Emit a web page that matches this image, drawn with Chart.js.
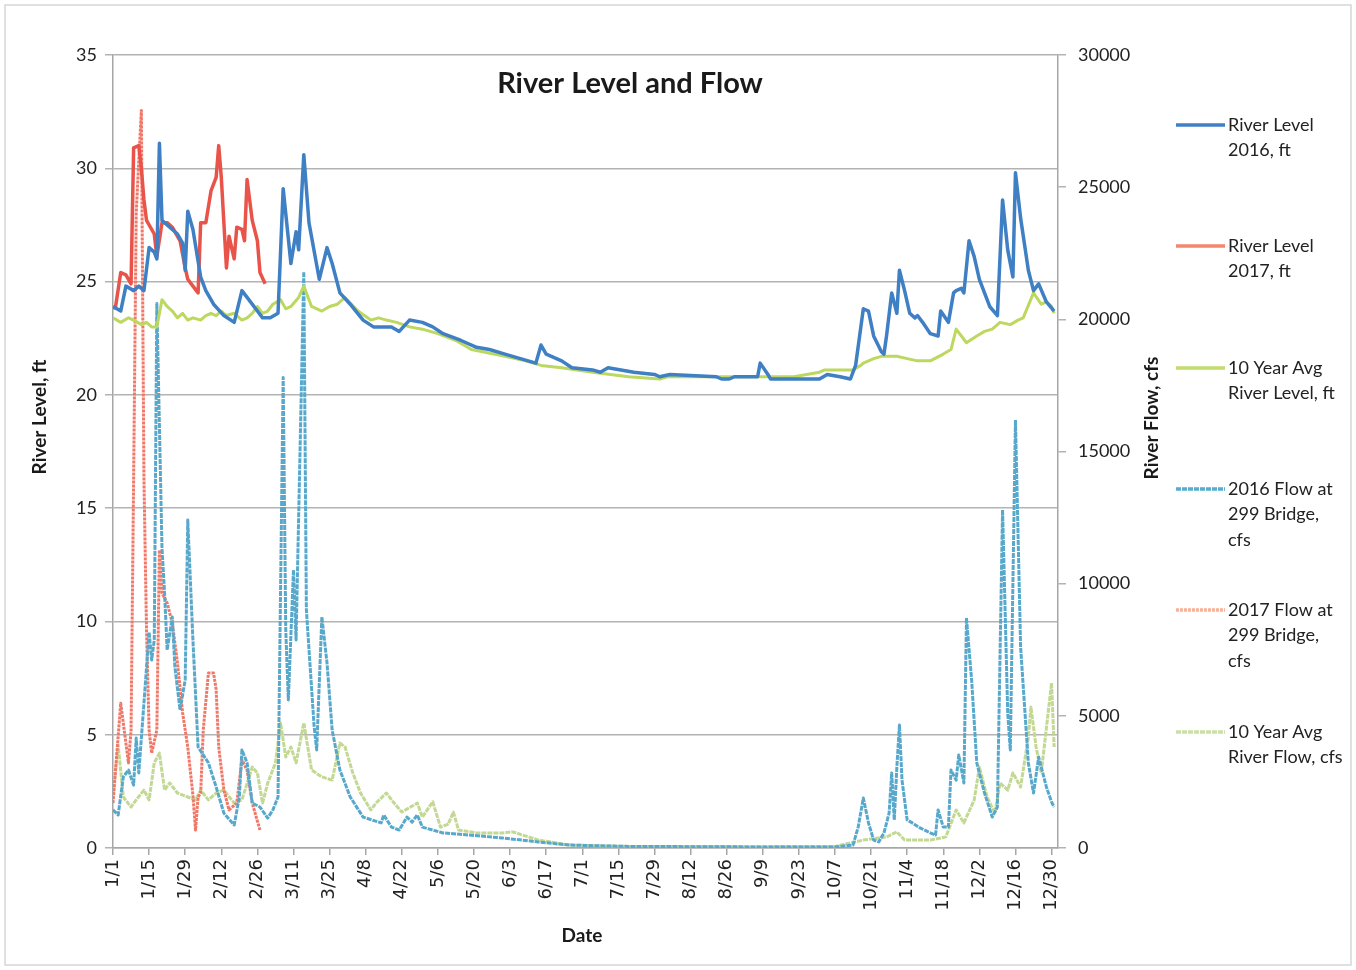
<!DOCTYPE html>
<html>
<head>
<meta charset="utf-8">
<script src="https://cdn.jsdelivr.net/npm/chart.js@4.4.0/dist/chart.umd.min.js"></script>
<style>
  html, body { margin: 0; padding: 0; background: #fff; }
  #wrap { width: 1356px; height: 970px; }
</style>
</head>
<body>
<div id="wrap"><canvas id="riverChart" width="1356" height="970"></canvas></div>
<script>
// x axis: day of year (2016), one label every 14 days
const tickDays = [0, 14, 28, 42, 56, 70, 84, 98, 112, 126, 140, 154, 168, 182, 196, 210, 224, 238, 252, 266, 280, 294, 308, 322, 336, 350, 364];
const dateLabels = ['1/1', '1/15', '1/29', '2/12', '2/26', '3/11', '3/25', '4/8', '4/22', '5/6', '5/20', '6/3', '6/17', '7/1',
  '7/15', '7/29', '8/12', '8/26', '9/9', '9/23', '10/7', '10/21', '11/4', '11/18', '12/2', '12/16', '12/30'];

// River level, ft (left axis)
const level2016Days = [0,3,5,8,10,12,14,16,17,18,19,21,25,27,28,29,31,34,36,39,43,47,50,52,56,58,61,64,66,69,71,72,74,76,80,83,85,88,92,97,101,108,111,115,120,124,128,135,141,146,152,158,164,166,168,170,174,178,186,189,192,197,202,210,212,216,234,236,239,241,250,251,254,255,264,274,277,282,286,288,291,293,295,298,299,300,302,304,305,307,309,311,312,314,317,320,321,324,326,327,329,330,332,334,336,340,343,345,347,349,350,352,355,357,359,362,365];
const level2016 = [23.9,23.7,24.8,24.6,24.8,24.6,26.5,26.3,26.0,31.1,27.7,27.5,27.1,26.7,25.5,28.1,27.3,25.2,24.6,24.0,23.5,23.2,24.6,24.3,23.7,23.4,23.4,23.6,29.1,25.8,27.2,26.4,30.6,27.6,25.1,26.5,25.8,24.5,24.0,23.3,23.0,23.0,22.8,23.3,23.2,23.0,22.7,22.4,22.1,22.0,21.8,21.6,21.4,22.2,21.8,21.7,21.5,21.2,21.1,21.0,21.2,21.1,21.0,20.9,20.8,20.9,20.8,20.7,20.7,20.8,20.8,21.4,20.9,20.7,20.7,20.7,20.9,20.8,20.7,21.3,23.8,23.7,22.6,21.9,21.8,22.6,24.5,23.6,25.5,24.6,23.6,23.4,23.5,23.2,22.7,22.6,23.7,23.2,24.5,24.6,24.7,24.5,26.8,26.1,25.1,23.9,23.5,28.6,26.4,25.2,29.8,27.8,25.5,24.6,24.9,24.1,23.7];

const level2017Days = [0,1,3,5,7,8,10,11,12,13,16,17,19,21,23,26,28,29,31,33,34,36,38,40,41,42,44,45,47,48,50,51,52,54,56,57,59];
const level2017 = [23.8,23.9,25.4,25.3,24.9,30.9,31.0,30.0,28.6,27.7,27.1,26.1,27.6,27.6,27.4,26.8,25.6,25.1,24.8,24.5,27.6,27.6,29.0,29.6,31.0,29.6,25.6,27.0,26.0,27.4,27.3,26.8,29.5,27.7,26.8,25.4,24.9];

const avgLevelDays = [0,3,6,8,11,13,15,17,19,21,23,25,27,29,31,34,36,38,40,42,44,47,50,52,54,56,58,60,62,65,67,69,72,74,77,81,84,87,90,95,100,103,106,110,115,120,126,133,139,152,160,166,174,186,200,212,215,234,251,264,274,276,287,290,291,295,298,304,308,312,317,322,325,327,331,335,338,341,344,348,351,353,357,360,362,364,365];
const avgLevel = [23.4,23.2,23.4,23.3,23.1,23.2,23.0,23.0,24.2,23.9,23.7,23.4,23.6,23.3,23.4,23.3,23.5,23.6,23.5,23.7,23.5,23.6,23.3,23.4,23.6,23.9,23.6,23.7,24.0,24.2,23.8,23.9,24.3,24.8,23.9,23.7,23.9,24.0,24.3,23.7,23.3,23.4,23.3,23.2,23.0,22.9,22.7,22.4,22.0,21.7,21.5,21.3,21.2,21.0,20.8,20.7,20.8,20.8,20.8,20.8,21.0,21.1,21.1,21.3,21.4,21.6,21.7,21.7,21.6,21.5,21.5,21.8,22.0,22.9,22.3,22.6,22.8,22.9,23.2,23.1,23.3,23.4,24.5,24.0,24.1,23.9,23.6];

// River flow, cfs (right axis)
const flow2016Days = [0,2,4,6,8,9,10,12,14,15,16,17,19,20,21,23,24,26,28,29,31,33,37,40,43,47,49,50,52,54,57,60,62,64,66,67,68,70,71,74,75,78,79,81,83,85,88,92,97,104,105,108,111,114,116,118,120,128,138,151,165,177,200,250,280,287,289,291,293,295,297,299,301,302,303,304,305,306,308,310,313,317,319,320,322,324,325,327,328,330,331,333,335,338,341,343,345,347,348,350,352,355,357,359,362,364,365];
const flow2016 = [1440,1250,2690,2950,2380,4160,2840,5480,8170,7110,7870,20600,11350,9650,7490,8740,6850,5220,6360,12410,7870,3820,3220,2310,1320,870,1930,3710,3220,1700,1550,1130,1440,1930,17800,8250,5600,10520,7870,21800,9000,4600,3710,8740,7000,4460,2950,1930,1170,950,1250,790,680,1170,980,1250,790,570,490,380,230,110,60,40,40,110,790,1890,950,300,230,570,1320,2840,1060,3060,4650,2570,1060,950,760,570,490,1440,790,790,2950,2570,3520,2460,8700,6360,3220,2080,1170,1550,12790,5100,3710,16190,7600,3220,2080,3440,2310,1740,1550];

const flow2017Days = [0,3,5,6,7,8,9,10,11,12,13,14,15,17,18,19,21,23,25,27,29,31,32,33,34,35,37,39,40,41,43,45,48,50,52,54,57];
const flow2017 = [1700,5480,3970,3220,4460,14000,24000,26000,27900,14000,8250,4460,3590,4460,11270,9650,9270,8510,7000,5110,3820,2000,680,1930,2080,4460,6620,6620,6000,3820,2190,1440,1700,3330,2950,1700,680];

const avgFlowDays = [0,2,4,7,9,12,14,16,18,20,22,25,29,32,34,37,40,43,47,50,54,56,58,60,63,65,67,69,71,74,77,81,85,88,90,93,96,100,102,106,109,112,118,120,124,127,130,132,134,141,151,155,165,177,200,250,280,291,300,304,307,317,323,327,330,334,336,339,342,344,347,349,352,355,356,358,360,364,365];
const avgFlow = [2000,3900,1930,1550,1820,2190,1820,3220,3590,2190,2460,2080,1930,1820,2190,1820,2080,2190,1700,1820,3060,2840,1700,2460,3220,4730,3440,3820,3220,4730,2950,2690,2570,3970,3820,2840,2080,1440,1700,2080,1700,1360,1700,1170,1750,790,900,1360,680,570,570,610,300,110,60,50,60,300,420,610,300,300,420,1440,950,1820,3060,1930,1320,2460,2190,2840,2310,4200,5330,3820,2840,6240,3820];

const toPoints = (days, vals) => days.map((d, i) => ({ x: d, y: vals[i] }));

const legendItems = [
  { lines: ['River Level', '2016, ft'], color: '#3f7fc4', dash: [] },
  { lines: ['River Level', '2017, ft'], color: '#f4866e', dash: [] },
  { lines: ['10 Year Avg', 'River Level, ft'], color: '#c3dc6e', dash: [] },
  { lines: ['2016 Flow at', '299 Bridge,', 'cfs'], color: '#5aabcd', dash: [5, 1] },
  { lines: ['2017 Flow at', '299 Bridge,', 'cfs'], color: '#f7b29a', dash: [3, 1] },
  { lines: ['10 Year Avg', 'River Flow, cfs'], color: '#cddfa8', dash: [5, 1] }
];

// titles, outer frame and the multi-line legend
const decorations = {
  id: 'decorations',
  afterDraw(chart) {
    const ctx = chart.ctx;
    ctx.save();
    ctx.strokeStyle = '#d6d6d6';
    ctx.lineWidth = 1.5;
    ctx.strokeRect(5, 5, 1346, 960);

    ctx.fillStyle = '#1a1a1a';
    ctx.textAlign = 'center';
    ctx.textBaseline = 'middle';
    ctx.font = 'bold 29px Lato';
    ctx.fillText('River Level and Flow', 630, 84);

    ctx.font = 'bold 19px Lato';
    ctx.fillText('Date', 582, 936);
    ctx.save();
    ctx.translate(40, 417);
    ctx.rotate(-Math.PI / 2);
    ctx.fillText('River Level, ft', 0, 0);
    ctx.restore();
    ctx.save();
    ctx.translate(1152, 418);
    ctx.rotate(-Math.PI / 2);
    ctx.fillText('River Flow, cfs', 0, 0);
    ctx.restore();

    const tops = [125, 246, 368, 489, 610, 732];
    ctx.textAlign = 'left';
    ctx.font = '18px Lato';
    legendItems.forEach((item, k) => {
      const y = tops[k];
      ctx.strokeStyle = item.color;
      ctx.lineWidth = 3.5;
      ctx.setLineDash(item.dash);
      ctx.beginPath();
      ctx.moveTo(1176, y);
      ctx.lineTo(1225, y);
      ctx.stroke();
      ctx.setLineDash([]);
      ctx.fillStyle = '#222';
      item.lines.forEach((t, j) => ctx.fillText(t, 1228, y + j * 25.5));
    });
    ctx.restore();
  }
};

const common = { pointRadius: 0, tension: 0, fill: false, borderJoinStyle: 'round' };

new Chart(document.getElementById('riverChart'), {
  type: 'line',
  data: {
    datasets: [
      { ...common, label: 'River Level 2016, ft', data: toPoints(level2016Days, level2016), yAxisID: 'yL', borderColor: '#3f7fc4', borderWidth: 3.5 },
      { ...common, label: 'River Level 2017, ft', data: toPoints(level2017Days, level2017), yAxisID: 'yL', borderColor: '#e8544a', borderWidth: 3.5 },
      { ...common, label: '10 Year Avg River Level, ft', data: toPoints(avgLevelDays, avgLevel), yAxisID: 'yL', borderColor: '#bcd85f', borderWidth: 3 },
      { ...common, label: '2016 Flow at 299 Bridge, cfs', data: toPoints(flow2016Days, flow2016), yAxisID: 'yR', borderColor: '#58a8cb', borderWidth: 3, borderDash: [5, 1] },
      { ...common, label: '2017 Flow at 299 Bridge, cfs', data: toPoints(flow2017Days, flow2017), yAxisID: 'yR', borderColor: '#f07868', borderWidth: 3, borderDash: [3, 1] },
      { ...common, label: '10 Year Avg River Flow, cfs', data: toPoints(avgFlowDays, avgFlow), yAxisID: 'yR', borderColor: '#c2d893', borderWidth: 3, borderDash: [5, 1] }
    ]
  },
  options: {
    responsive: false,
    animation: false,
    layout: { padding: { top: 55, left: 0, right: 0, bottom: 0 } },
    plugins: { legend: { display: false }, tooltip: { enabled: false } },
    scales: {
      x: {
        type: 'linear',
        min: 0,
        max: 366.5,
        afterBuildTicks: s => { s.ticks = tickDays.map(v => ({ value: v })); },
        afterFit: s => { s.height = 122; },
        ticks: {
          autoSkip: false,
          minRotation: 90,
          maxRotation: 90,
          padding: 4,
          color: '#222',
          font: { family: 'DejaVu Sans', size: 18 },
          callback: v => dateLabels[tickDays.indexOf(v)]
        },
        grid: { drawOnChartArea: false, tickLength: 7, color: '#a6a6a6', lineWidth: 1.5 },
        border: { color: '#a6a6a6', width: 1.5 }
      },
      yL: {
        position: 'left',
        min: 0,
        max: 35,
        afterFit: s => { s.width = 113; },
        ticks: { stepSize: 5, padding: 8, color: '#222', font: { family: 'Lato', size: 18 } },
        grid: { color: '#b3b3b3', lineWidth: 1.5, tickLength: 8 },
        border: { color: '#a6a6a6', width: 1.5 }
      },
      yR: {
        position: 'right',
        min: 0,
        max: 30000,
        afterFit: s => { s.width = 298; },
        ticks: { stepSize: 5000, padding: 12, color: '#222', font: { family: 'Lato', size: 18 }, callback: v => String(v) },
        grid: { drawOnChartArea: false, color: '#b3b3b3', lineWidth: 1.5, tickLength: 8 },
        border: { color: '#a6a6a6', width: 1.5 }
      }
    }
  },
  plugins: [decorations]
});
</script>
</body>
</html>
